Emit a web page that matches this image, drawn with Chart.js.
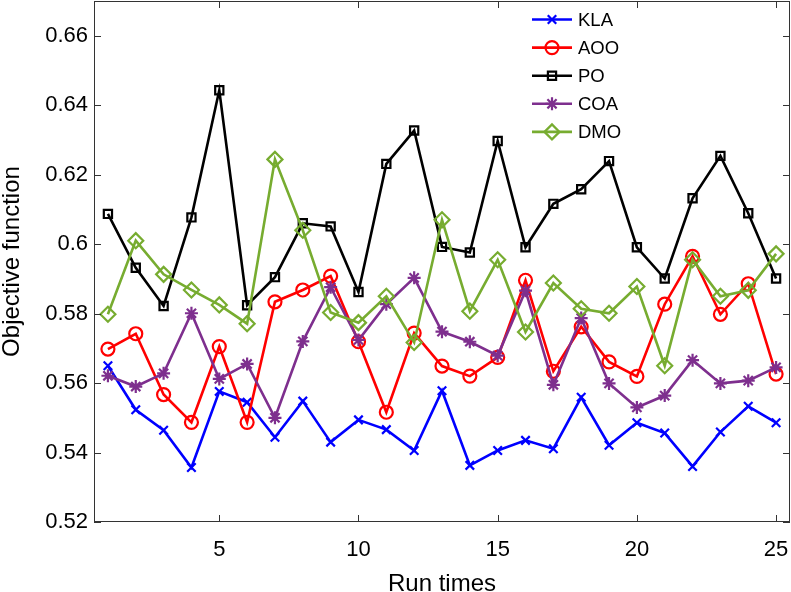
<!DOCTYPE html>
<html>
<head>
<meta charset="utf-8">
<script src="https://cdn.jsdelivr.net/npm/chart.js@4/dist/chart.umd.min.js"></script>
<style>
  html, body { margin: 0; padding: 0; background: #fff; }
  #wrap { width: 791px; height: 592px; }
</style>
</head>
<body>
<div id="wrap"><canvas id="runChart"></canvas></div>
<script>
let runs = [1, 2, 3, 4, 5, 6, 7, 8, 9, 10, 11, 12, 13, 14, 15, 16, 17, 18, 19, 20, 21, 22, 23, 24, 25];

let kla = [0.5650, 0.5523, 0.5464, 0.5357, 0.5576, 0.5545, 0.5444, 0.5548, 0.5430, 0.5494, 0.5466, 0.5406, 0.5578,
    0.5363, 0.5406, 0.5435, 0.5411, 0.5559, 0.5421, 0.5486, 0.5456, 0.5360, 0.5459, 0.5533, 0.5486];
let aoo = [0.5698, 0.5742, 0.5567, 0.5487, 0.5705, 0.5487, 0.5834, 0.5868, 0.5908, 0.5719, 0.5516, 0.5744, 0.5649,
    0.5620, 0.5674, 0.5896, 0.5634, 0.5762, 0.5661, 0.5619, 0.5827, 0.5965, 0.5798, 0.5886, 0.5626];
let po = [0.6087, 0.5932, 0.5822, 0.6077, 0.6443, 0.5824, 0.5905, 0.6060, 0.6051, 0.5862, 0.6231, 0.6327, 0.5992,
    0.5976, 0.6297, 0.5991, 0.6116, 0.6158, 0.6239, 0.5991, 0.5901, 0.6132, 0.6254, 0.6089, 0.5901];
let coa = [0.5621, 0.5590, 0.5628, 0.5801, 0.5612, 0.5655, 0.5500, 0.5720, 0.5876, 0.5724, 0.5827, 0.5903, 0.5748,
    0.5719, 0.5679, 0.5866, 0.5595, 0.5787, 0.5599, 0.5530, 0.5564, 0.5666, 0.5599, 0.5607, 0.5645];
let dmo = [0.5798, 0.6010, 0.5913, 0.5868, 0.5825, 0.5771, 0.6244, 0.6040, 0.5803, 0.5774, 0.5850, 0.5717, 0.6070,
    0.5807, 0.5955, 0.5747, 0.5888, 0.5814, 0.5801, 0.5878, 0.5650, 0.5955, 0.5850, 0.5867, 0.5972];

let xTicks = [5, 10, 15, 20, 25];
let yTicks = [0.52, 0.54, 0.56, 0.58, 0.60, 0.62, 0.64, 0.66];
let yTickLabels = ["0.52", "0.54", "0.56", "0.58", "0.6", "0.62", "0.64", "0.66"];

const FONT = "'Liberation Sans', Arial, Helvetica, sans-serif";

function series(label, values, color, style, radius, fill, order) {
    return {
        label: label,
        data: values.map((v, i) => ({ x: runs[i], y: v })),
        borderColor: color,
        borderWidth: 2.6,
        pointStyle: style,
        pointRadius: radius,
        pointHoverRadius: radius,
        pointBorderColor: color,
        pointBackgroundColor: fill,
        pointBorderWidth: 2.2,
        order: order,
        clip: false,
        tension: 0
    };
}

// no extra room for edge labels, the plot fills the box like in matlab
function noPad(s) {
    s.paddingLeft = 0; s.paddingRight = 0; s.paddingTop = 0; s.paddingBottom = 0;
    s.getPadding = () => ({ left: 0, top: 0, right: 0, bottom: 0 });
}

// box + inward ticks, matlab style
const boxPlugin = {
    id: "box",
    afterDraw(chart) {
        const ctx = chart.ctx;
        const a = chart.chartArea;
        const xs = chart.scales.x, ys = chart.scales.y;
        ctx.save();
        ctx.strokeStyle = "#333";
        ctx.lineWidth = 1;
        ctx.strokeRect(a.left + 0.5, a.top + 0.5, a.right - a.left - 1, a.bottom - a.top - 1);
        ctx.beginPath();
        xTicks.forEach(t => {
            const px = Math.round(xs.getPixelForValue(t)) + 0.5;
            ctx.moveTo(px, a.bottom); ctx.lineTo(px, a.bottom - 7);
            ctx.moveTo(px, a.top); ctx.lineTo(px, a.top + 7);
        });
        yTicks.forEach(t => {
            const py = Math.round(ys.getPixelForValue(t)) + 0.5;
            ctx.moveTo(a.left, py); ctx.lineTo(a.left + 7, py);
            ctx.moveTo(a.right, py); ctx.lineTo(a.right - 7, py);
        });
        ctx.stroke();
        ctx.restore();
    }
};

// legend: line with marker, then text
const legendPlugin = {
    id: "lineLegend",
    afterDraw(chart) {
        const ctx = chart.ctx;
        chart.data.datasets.forEach((ds, i) => {
            const y = 19.5 + i * 28.1;
            ctx.save();
            ctx.strokeStyle = ds.borderColor;
            ctx.lineWidth = ds.borderWidth;
            ctx.beginPath();
            ctx.moveTo(532, y);
            ctx.lineTo(572, y);
            ctx.stroke();
            ctx.strokeStyle = ds.pointBorderColor;
            ctx.fillStyle = ds.pointBackgroundColor;
            ctx.lineWidth = ds.pointBorderWidth;
            Chart.helpers.drawPoint(ctx, {
                pointStyle: ds.pointStyle,
                radius: ds.pointRadius,
                borderWidth: ds.pointBorderWidth,
                rotation: 0
            }, 552, y);
            ctx.fillStyle = "#000";
            ctx.font = "18.5px " + FONT;
            ctx.textBaseline = "middle";
            ctx.textAlign = "left";
            ctx.fillText(ds.label, 578, y + 1);
            ctx.restore();
        });
    }
};

new Chart(document.getElementById("runChart"), {
    type: "line",
    data: {
        datasets: [
            series("KLA", kla, "#0000ff", "crossRot", 6, "#0000ff", 5),
            series("AOO", aoo, "#ff0000", "circle", 6.5, "rgba(0,0,0,0)", 4),
            series("PO", po, "#000000", "rect", 5.8, "rgba(0,0,0,0)", 3),
            series("COA", coa, "#7e2f8e", "star", 6.5, "#7e2f8e", 2),
            series("DMO", dmo, "#77ac30", "rectRot", 7.5, "rgba(0,0,0,0)", 1)
        ]
    },
    options: {
        responsive: true,
        maintainAspectRatio: false,
        animation: false,
        layout: { autoPadding: false, padding: { top: 1, right: 1, left: 0, bottom: 0 } },
        plugins: {
            legend: { display: false },
            tooltip: { enabled: false }
        },
        scales: {
            x: {
                type: "linear",
                min: 0.5,
                max: 25.5,
                afterBuildTicks: s => { s.ticks = xTicks.map(v => ({ value: v })); },
                afterFit: s => { s.height = 70; noPad(s); },
                grid: { display: false, drawTicks: false },
                border: { display: false },
                ticks: {
                    padding: 15,
                    maxRotation: 0,
                    color: "#000",
                    font: { family: FONT, size: 22 }
                },
                title: {
                    display: true,
                    text: "Run times",
                    color: "#000",
                    font: { family: FONT, size: 24, lineHeight: 0.6 },
                    padding: { top: 0, bottom: 0 }
                }
            },
            y: {
                min: 0.52,
                max: 0.67,
                afterBuildTicks: s => { s.ticks = yTicks.map(v => ({ value: v })); },
                afterFit: s => { s.width = 94; noPad(s); },
                grid: { display: false, drawTicks: false },
                border: { display: false },
                ticks: {
                    padding: 6,
                    color: "#000",
                    font: { family: FONT, size: 22 },
                    callback: (v, i) => yTickLabels[i]
                },
                title: {
                    display: true,
                    text: "Objective function",
                    color: "#000",
                    font: { family: FONT, size: 24, lineHeight: 1 },
                    padding: { top: 0, bottom: 0 }
                }
            }
        }
    },
    plugins: [boxPlugin, legendPlugin]
});
</script>
</body>
</html>
